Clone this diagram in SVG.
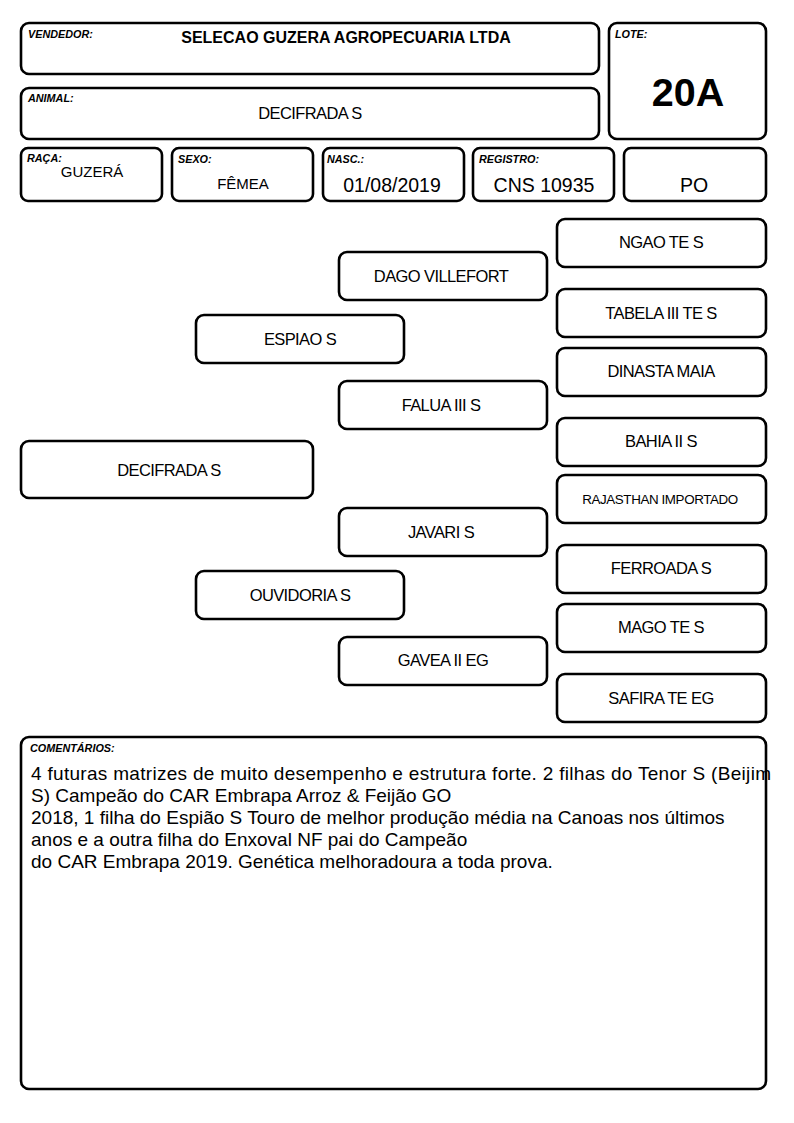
<svg xmlns="http://www.w3.org/2000/svg" width="794" height="1123" viewBox="0 0 794 1123">
<style>
.b{fill:#fff;stroke:#000;stroke-width:2.6}
.lb{font-family:"Liberation Sans",Arial,sans-serif;font-weight:bold;font-style:italic;font-size:10.8px;fill:#000}
.v{font-family:"Liberation Sans",Arial,sans-serif;font-size:15px;fill:#000;text-anchor:middle}
.v2{font-family:"Liberation Sans",Arial,sans-serif;font-size:19.5px;fill:#000;text-anchor:middle}
.p{font-family:"Liberation Sans",Arial,sans-serif;font-size:16.5px;letter-spacing:-0.6px;fill:#000;text-anchor:middle}
.ps{font-family:"Liberation Sans",Arial,sans-serif;font-size:13.4px;letter-spacing:-0.4px;fill:#000;text-anchor:middle}
.c{font-family:"Liberation Sans",Arial,sans-serif;font-size:19px;fill:#000}
</style>
<rect width="794" height="1123" fill="#fff"/>
<g id="vendedor"><rect class="b" x="21" y="23" width="578" height="51" rx="8"/><text class="lb" x="28" y="38">VENDEDOR:</text><text x="346" y="43" font-family="Liberation Sans,Arial,sans-serif" font-weight="bold" font-size="16" text-anchor="middle">SELECAO GUZERA AGROPECUARIA LTDA</text></g>
<g id="animal"><rect class="b" x="21" y="88" width="578" height="51" rx="8"/><text class="lb" x="28" y="102">ANIMAL:</text><text class="p" x="310" y="119">DECIFRADA S</text></g>
<g id="lote"><rect class="b" x="609" y="23" width="157" height="116" rx="8"/><text class="lb" x="615" y="38">LOTE:</text><text x="688" y="106" font-family="Liberation Sans,Arial,sans-serif" font-weight="bold" font-size="39.5" text-anchor="middle">20A</text></g>
<g id="raca"><rect class="b" x="21" y="148" width="141" height="53" rx="7"/><text class="lb" x="27" y="162">RAÇA:</text><text class="v" x="92" y="177">GUZERÁ</text></g>
<g id="sexo"><rect class="b" x="172" y="148" width="141" height="53" rx="7"/><text class="lb" x="178" y="163">SEXO:</text><text class="v" x="243" y="189">FÊMEA</text></g>
<g id="nasc"><rect class="b" x="323" y="148" width="141" height="53" rx="7"/><text class="lb" x="327" y="163">NASC.:</text><text class="v2" x="392" y="192">01/08/2019</text></g>
<g id="registro"><rect class="b" x="473" y="148" width="141" height="53" rx="7"/><text class="lb" x="479" y="163">REGISTRO:</text><text class="v2" x="544" y="192">CNS 10935</text></g>
<g id="po"><rect class="b" x="624" y="148" width="142" height="53" rx="7"/><text class="v2" x="694" y="192">PO</text></g>
<g id="connectors"></g>
<g id="ngao"><rect class="b" x="557" y="219" width="209" height="48" rx="8"/><text class="p" x="661" y="248">NGAO TE S</text></g>
<g id="dago"><rect class="b" x="339" y="252" width="208" height="48" rx="8"/><text class="p" x="441" y="282">DAGO VILLEFORT</text></g>
<g id="tabela"><rect class="b" x="557" y="289" width="209" height="48" rx="8"/><text class="p" x="661" y="319">TABELA III TE S</text></g>
<g id="espiao"><rect class="b" x="196" y="315" width="208" height="48" rx="8"/><text class="p" x="300" y="345">ESPIAO S</text></g>
<g id="dinasta"><rect class="b" x="557" y="348" width="209" height="48" rx="8"/><text class="p" x="661" y="377">DINASTA MAIA</text></g>
<g id="falua"><rect class="b" x="339" y="381" width="208" height="48" rx="8"/><text class="p" x="441" y="411">FALUA III S</text></g>
<g id="bahia"><rect class="b" x="557" y="418" width="209" height="48" rx="8"/><text class="p" x="661" y="447">BAHIA II S</text></g>
<g id="decifrada"><rect class="b" x="21" y="441" width="292" height="57" rx="8"/><text class="p" x="169" y="476">DECIFRADA S</text></g>
<g id="rajasthan"><rect class="b" x="557" y="475" width="209" height="48" rx="8"/><text class="ps" x="660" y="504">RAJASTHAN IMPORTADO</text></g>
<g id="javari"><rect class="b" x="339" y="508" width="208" height="48" rx="8"/><text class="p" x="441" y="538">JAVARI S</text></g>
<g id="ferroada"><rect class="b" x="557" y="545" width="209" height="48" rx="8"/><text class="p" x="661" y="574">FERROADA S</text></g>
<g id="ouvidoria"><rect class="b" x="196" y="571" width="208" height="48" rx="8"/><text class="p" x="300" y="601">OUVIDORIA S</text></g>
<g id="mago"><rect class="b" x="557" y="604" width="209" height="48" rx="8"/><text class="p" x="661" y="633">MAGO TE S</text></g>
<g id="gavea"><rect class="b" x="339" y="637" width="208" height="48" rx="8"/><text class="p" x="443" y="666">GAVEA II EG</text></g>
<g id="safira"><rect class="b" x="557" y="674" width="209" height="48" rx="8"/><text class="p" x="661" y="704">SAFIRA TE EG</text></g>
<g id="comentarios"><rect class="b" x="21" y="737" width="745" height="352" rx="8"/><text class="lb" x="30" y="752">COMENTÁRIOS:</text>
<text class="c" x="31" y="780" textLength="740" lengthAdjust="spacing">4 futuras matrizes de muito desempenho e estrutura forte. 2 filhas do Tenor S (Beijim</text>
<text class="c" x="31" y="802">S) Campeão do CAR Embrapa Arroz &amp; Feijão GO</text>
<text class="c" x="31" y="824">2018, 1 filha do Espião S Touro de melhor produção média na Canoas nos últimos</text>
<text class="c" x="31" y="846">anos e a outra filha do Enxoval NF pai do Campeão</text>
<text class="c" x="31" y="868">do CAR Embrapa 2019. Genética melhoradoura a toda prova.</text></g>
</svg>
